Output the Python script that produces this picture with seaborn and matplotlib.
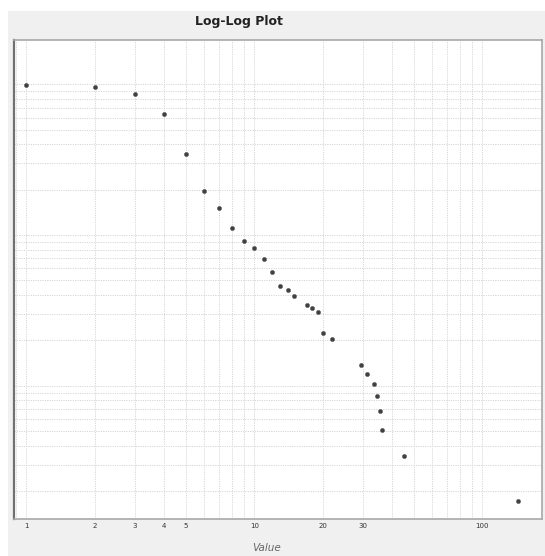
import numpy as np
import pandas as pd
import matplotlib
matplotlib.use("Agg")
import matplotlib.pyplot as plt
import matplotlib.ticker as mticker
import seaborn as sns

# rank vs value
rank = [1, 2, 3, 4, 5, 6, 7, 8, 9, 10, 11, 12, 13, 14, 15, 17, 18, 19, 20, 22,
        29.3, 31.3, 33.4, 34.4, 35.5, 36.3, 45.5, 143]
value = [985, 965, 858, 634, 345, 197, 150, 112, 91, 82, 69, 57, 46, 43, 39.6,
         34.5, 32.8, 30.8, 22.3, 20.5, 13.7, 12.0, 10.3, 8.6, 6.8, 5.1, 3.4, 1.71]
x_ticks = [1, 2, 3, 4, 5, 10, 20, 30, 100]

df = pd.DataFrame({"rank": rank, "value": value})

sns.set_style("white")
plt.rcParams['font.family'] = ['DejaVu Sans']

fig = plt.figure(figsize=(5.45, 5.56), dpi=100)
fig.patch.set_facecolor("white")
# grey panel behind the plot
fig.patches.append(plt.Rectangle((8 / 545, 0), 1 - 8 / 545, (556 - 11) / 556,
                                 transform=fig.transFigure, facecolor="#f0f0f0",
                                 edgecolor="none", zorder=-10))

ax = fig.add_axes([14 / 545, (556 - 519) / 556, (541.5 - 14) / 545, (519 - 40) / 556])
ax.set_facecolor("white")

sns.scatterplot(data=df, x="rank", y="value", ax=ax, color="#404040", s=9,
                marker="o", edgecolor="#606060", linewidth=0.4, zorder=3)

ax.set_xscale("log")
ax.set_yscale("log")
ax.set_xlim(0.883, 182)
ax.set_ylim(1.305, 1968)

ax.xaxis.set_major_locator(mticker.FixedLocator(x_ticks))
ax.xaxis.set_major_formatter(mticker.FixedFormatter([str(t) for t in x_ticks]))
ax.xaxis.set_minor_locator(mticker.LogLocator(base=10, subs=np.arange(2, 10)))
ax.xaxis.set_minor_formatter(mticker.NullFormatter())
ax.yaxis.set_major_locator(mticker.LogLocator(base=10))
ax.yaxis.set_minor_locator(mticker.LogLocator(base=10, subs=np.arange(2, 10)))
ax.yaxis.set_major_formatter(mticker.NullFormatter())
ax.yaxis.set_minor_formatter(mticker.NullFormatter())

ax.grid(True, which="both", axis="both", color="#d6d6d6", linestyle=(0, (1.2, 1.2)),
        linewidth=0.7, zorder=0)
ax.set_axisbelow(True)

ax.tick_params(axis="x", which="both", length=0, labelsize=5, pad=3, colors="#333333")
ax.tick_params(axis="y", which="both", length=2, width=0.8, color="#666666",
               direction="out")

for side in ["top", "right", "bottom"]:
    ax.spines[side].set_color("#a8a8a8")
    ax.spines[side].set_linewidth(1.2)
ax.spines["left"].set_color("#707070")
ax.spines["left"].set_linewidth(1.6)

ax.set_xlabel("")
ax.set_ylabel("")

fig.text(239 / 545, (556 - 22) / 556, "Log-Log Plot", ha="center", va="center",
         fontsize=9, fontweight="bold", color="#222222")
fig.text(267 / 545, (556 - 548) / 556, "Value", ha="center", va="center",
         fontsize=7.5, style="italic", color="#666666")

fig.savefig("out.png", dpi=100)
